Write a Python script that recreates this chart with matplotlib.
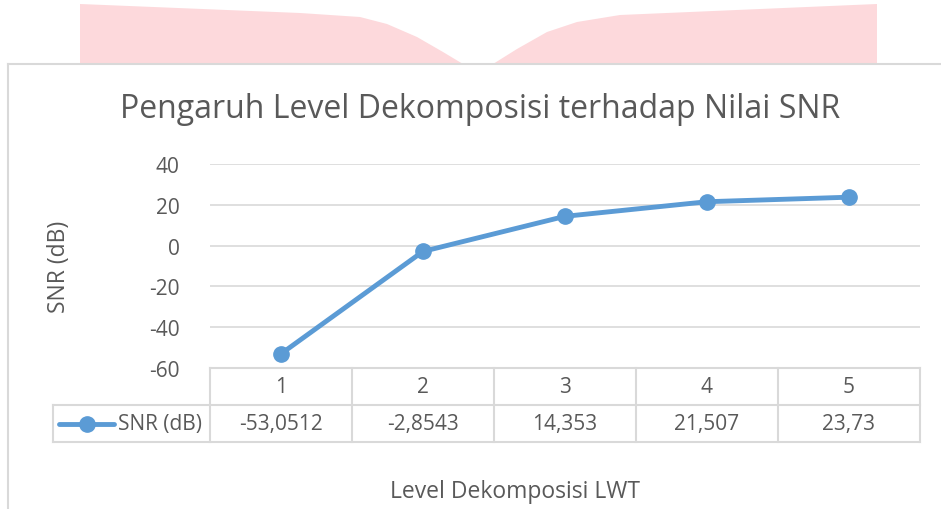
import numpy as np
import matplotlib
matplotlib.use("Agg")
import matplotlib.pyplot as plt
from matplotlib.patches import Polygon

# data
levels = [1, 2, 3, 4, 5]
snr_db = [-53.0512, -2.8543, 14.353, 21.507, 23.73]
series_name = "SNR (dB)"
y_ticks = [-60, -40, -20, 0, 20, 40]
title = "Pengaruh Level Dekomposisi terhadap Nilai SNR"
x_title = "Level Dekomposisi LWT"

plt.rcParams['font.family'] = ['Open Sans', 'DejaVu Sans']
plt.rcParams['axes.unicode_minus'] = False
txt = "#595959"
grid_c = "#D9D9D9"
blue = "#5B9BD5"

W, H = 941, 510
fig = plt.figure(figsize=(W / 100, H / 100), dpi=100)

# full-figure overlay in pixel coords (for frame, table, pink shape)
bg = fig.add_axes([0, 0, 1, 1])
bg.set_xlim(0, W)
bg.set_ylim(H, 0)
bg.axis("off")

# pink shape behind chart (page decoration)
left = [(80, 5), (300, 14), (360, 18), (387, 25), (417, 38), (443, 53),
        (463, 65), (80, 65)]
right = [(493, 65), (517, 50), (547, 33), (577, 23), (620, 16), (877, 5),
         (877, 65)]
for pts in (left, right):
    bg.add_patch(Polygon(pts, closed=True, fc="#FDD9DC", ec="none"))

# chart frame
bg.plot([8, W], [65, 65], color=grid_c, lw=1.5)
bg.plot([8, 8], [65, H], color=grid_c, lw=1.5)

# plot area
px0, px1, py_top, py_bot = 210, 920, 165, 369
ax = fig.add_axes([px0 / W, 1 - py_bot / H, (px1 - px0) / W, (py_bot - py_top) / H])
ax.set_xlim(0.5, 5.5)
ax.set_ylim(-60, 40)
ax.set_yticks(y_ticks)
ax.set_xticks([])
ax.yaxis.grid(True, color=grid_c, lw=1.2)
ax.set_axisbelow(True)
for s in ax.spines.values():
    s.set_visible(False)
ax.tick_params(axis="y", length=0, pad=22, labelsize=15, labelcolor=txt)
ax.set_facecolor("none")
ax.plot(levels, snr_db, color=blue, lw=3.5, marker="o", ms=11, clip_on=False, zorder=3)

fig.text(59 / W, 1 - 267 / H, series_name, rotation=90, ha="center", va="center",
         fontsize=16.5, color=txt)
fig.text(480 / W, 1 - 109 / H, title, ha="center", va="center", fontsize=23, color=txt)
fig.text(515 / W, 1 - 492 / H, x_title, ha="center", va="center", fontsize=16.5, color=txt)

# data table
col_w = (px1 - px0) / len(levels)
r0, r1, r2 = 369, 406, 443
lc = dict(color=grid_c, lw=1.5)
bg.plot([px0, px1], [r0, r0], **lc)
bg.plot([53, px1], [r1, r1], **lc)
bg.plot([53, px1], [r2, r2], **lc)
bg.plot([53, 53], [r1, r2], **lc)
for i in range(len(levels) + 1):
    x = px0 + i * col_w
    bg.plot([x, x], [r0, r2], **lc)
for i, (lv, v) in enumerate(zip(levels, snr_db)):
    cx = px0 + (i + 0.5) * col_w
    bg.text(cx, (r0 + r1) / 2, str(lv), ha="center", va="center", fontsize=15, color=txt)
    bg.text(cx, (r1 + r2) / 2, str(v).replace(".", ","), ha="center", va="center",
            fontsize=15, color=txt)

# legend key in table
ly = (r1 + r2) / 2
bg.plot([59, 114], [ly, ly], color=blue, lw=3.5, solid_capstyle="round")
bg.plot([87], [ly], "o", color=blue, ms=11)
bg.text(118, ly, series_name, ha="left", va="center", fontsize=15, color=txt)

fig.savefig("out.png", dpi=100)
